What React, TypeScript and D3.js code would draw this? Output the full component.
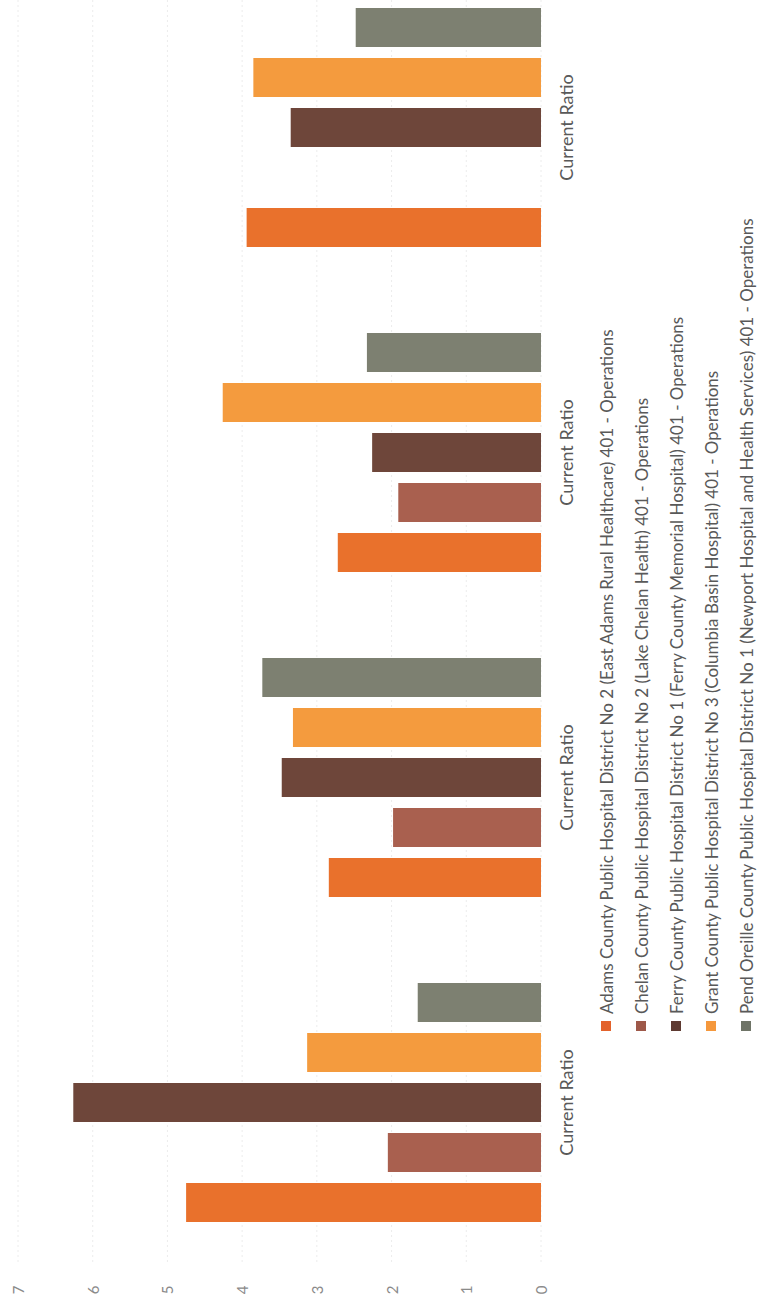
import React from "react";
import * as d3 from "d3";

const categories = ["Current Ratio", "Current Ratio", "Current Ratio", "Current Ratio"];
const seriesNames = [
  "Adams County Public Hospital District No 2 (East Adams Rural Healthcare) 401 - Operations",
  "Chelan County Public Hospital District No 2 (Lake Chelan Health) 401 - Operations",
  "Ferry County Public Hospital District No 1 (Ferry County Memorial Hospital) 401 - Operations",
  "Grant County Public Hospital District No 3 (Columbia Basin Hospital) 401 - Operations",
  "Pend Oreille County Public Hospital District No 1 (Newport Hospital and Health Services) 401 - Operations",
];
// values per series, one per category group
const adams = [4.75, 2.84, 2.72, 3.94];
const chelan: (number | null)[] = [2.05, 1.98, 1.91, null];
const ferry = [6.26, 3.47, 2.26, 3.35];
const grant = [3.13, 3.32, 4.26, 3.85];
const pend = [1.65, 3.73, 2.33, 2.48];
const valueTicks = [0, 1, 2, 3, 4, 5, 6, 7];
const colors = ["#E9712C", "#A9604F", "#6E463A", "#F49B3E", "#7D8071"];
const legendColors = ["#E3622B", "#9E5849", "#5E3A31", "#F5983C", "#6F7467"];

const seriesValues = [adams, chelan, ferry, grant, pend];

export default function App() {
  const W = 761;
  const H = 1301;
  const x = d3.scaleLinear().domain([0, 7]).range([541, 18]);
  const catKeys = categories.map((_, i) => String(i));
  const band = d3.scaleBand().domain(catKeys).range([1265, -35]).padding(0);
  const groupH = 250;
  const groupOff = (band.bandwidth() - groupH) / 2;
  const inner = d3
    .scaleBand()
    .domain(seriesNames.map((_, i) => String(i)).reverse())
    .range([0, groupH])
    .paddingInner(0.22)
    .paddingOuter(0.11);

  const font = "Lato, 'Open Sans', sans-serif";
  const legendX = [606, 641, 676, 711, 746];

  return (
    <div style={{ position: "absolute", left: 0, top: 0 }}>
      <svg width={W} height={H} style={{ display: "block", background: "#fff" }}>
        {/* faint gridlines */}
        {valueTicks.map((t) => (
          <line
            key={"g" + t}
            x1={x(t)}
            x2={x(t)}
            y1={-35}
            y2={1265}
            stroke="#ececec"
            strokeDasharray="2,3"
            strokeWidth={1}
          />
        ))}
        {/* bars */}
        {categories.map((c, ci) => {
          const g0 = (band(String(ci)) as number) + groupOff;
          return (
            <g key={"cat" + ci}>
              {seriesValues.map((vals, si) => {
                const v = vals[ci];
                if (v == null) return null;
                const y = g0 + (inner(String(si)) as number);
                return (
                  <rect
                    key={"b" + si}
                    x={x(v)}
                    y={y}
                    width={x(0) - x(v)}
                    height={inner.bandwidth()}
                    fill={colors[si]}
                  />
                );
              })}
              <text
                transform={`translate(566,${(band(String(ci)) as number) + band.bandwidth() / 2}) rotate(-90)`}
                textAnchor="middle"
                dominantBaseline="central"
                fontFamily={font}
                fontSize={18}
                fill="#595959"
              >
                {c}
              </text>
            </g>
          );
        })}
        {/* value tick labels */}
        {valueTicks.map((t) => (
          <text
            key={"t" + t}
            transform={`translate(${x(t)},1290) rotate(-90)`}
            textAnchor="middle"
            dominantBaseline="central"
            fontFamily={font}
            fontSize={15}
            fill="#8a8a8a"
          >
            {t}
          </text>
        ))}
        {/* legend */}
        {seriesNames.map((s, si) => (
          <g key={"l" + si}>
            <rect x={legendX[si] - 5} y={1021} width={10} height={10} fill={legendColors[si]} />
            <text
              transform={`translate(${legendX[si]},1014) rotate(-90)`}
              textAnchor="start"
              dominantBaseline="central"
              fontFamily={font}
              fontSize={17}
              fill="#595959"
            >
              {s}
            </text>
          </g>
        ))}
      </svg>
    </div>
  );
}
